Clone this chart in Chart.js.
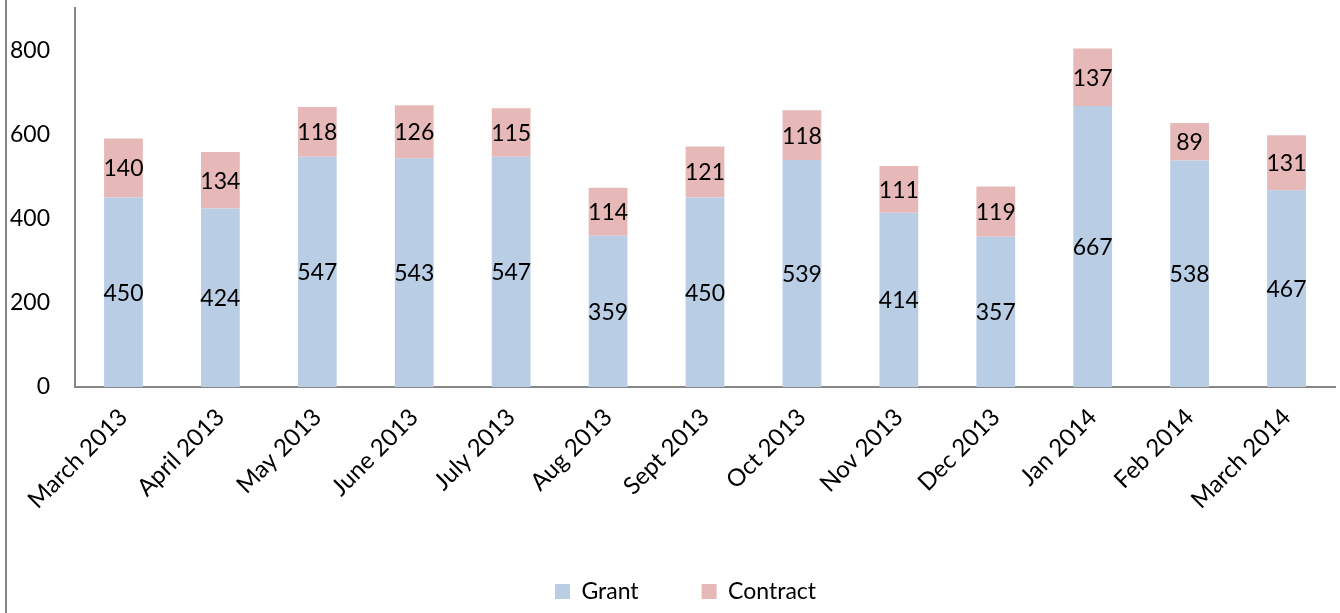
<!DOCTYPE html>
<html>
<head>
<meta charset="utf-8">
<script src="https://cdn.jsdelivr.net/npm/chart.js@4"></script>
<style>
  html, body { margin: 0; padding: 0; background: #fff; }
  #wrap { width: 1340px; height: 613px; position: relative; }
</style>
</head>
<body>
<div id="wrap"><canvas id="myChart"></canvas></div>
<script>
const months = ['March 2013', 'April 2013', 'May 2013', 'June 2013', 'July 2013', 'Aug 2013', 'Sept 2013',
                'Oct 2013', 'Nov 2013', 'Dec 2013', 'Jan 2014', 'Feb 2014', 'March 2014'];
const grant = [450, 424, 547, 543, 547, 359, 450, 539, 414, 357, 667, 538, 467];
const contract = [140, 134, 118, 126, 115, 114, 121, 118, 111, 119, 137, 89, 131];
const yTicks = [0, 200, 400, 600, 800];

const FONT = 'Lato, "Open Sans", sans-serif';
Chart.defaults.font.family = FONT;
Chart.defaults.font.size = 23;
Chart.defaults.color = '#000';

// value in the middle of each stacked segment
const segLabels = {
    id: 'segLabels',
    afterDatasetsDraw(chart) {
        const c = chart.ctx;
        c.save();
        c.font = '23px ' + FONT;
        c.fillStyle = '#000';
        c.textAlign = 'center';
        c.textBaseline = 'middle';
        chart.data.datasets.forEach((ds, i) => {
            chart.getDatasetMeta(i).data.forEach((bar, j) => {
                c.fillText(ds.data[j], bar.x, (bar.y + bar.base) / 2 + 1);
            });
        });
        c.restore();
    }
};

// outer frame line on the left, and nudge the legend right a bit
const frameLine = {
    id: 'frameLine',
    afterLayout(chart) {
        chart.legend.left += 18;
        chart.legend.right += 18;
    },
    afterDraw(chart) {
        const c = chart.ctx;
        c.save();
        c.strokeStyle = '#868686';
        c.lineWidth = 2;
        c.beginPath();
        c.moveTo(6, 0);
        c.lineTo(6, chart.height);
        c.stroke();
        c.restore();
    }
};

function noPad(scale) {
    scale.paddingTop = 0;
    scale.paddingBottom = 0;
    scale.paddingLeft = 0;
    scale.paddingRight = 0;
}

var graphData = {
    type: 'bar',
    data: {
        labels: months,
        datasets: [{
            label: 'Grant',
            data: grant,
            backgroundColor: '#B9CDE5',
            barPercentage: 0.4,
            categoryPercentage: 1
        }, {
            label: 'Contract',
            data: contract,
            backgroundColor: '#E6B9B8',
            barPercentage: 0.4,
            categoryPercentage: 1
        }]
    },
    options: {
        responsive: true,
        maintainAspectRatio: false,
        animation: false,
        layout: { padding: { top: 8, right: 5, left: 0, bottom: 0 } },
        plugins: {
            tooltip: { enabled: false },
            legend: {
                position: 'bottom',
                labels: {
                    boxWidth: 15,
                    boxHeight: 15,
                    padding: 10,
                    generateLabels(chart) {
                        const items = Chart.defaults.plugins.legend.labels.generateLabels(chart);
                        items[0].text = 'Grant' + '\u00a0'.repeat(9);
                        items.forEach(it => { it.lineWidth = 0; it.strokeStyle = 'transparent'; });
                        return items;
                    }
                }
            }
        },
        scales: {
            x: {
                stacked: true,
                grid: { display: false, drawTicks: false },
                border: { display: true, color: '#868686', width: 2 },
                ticks: { minRotation: 45, maxRotation: 45, autoSkip: false, padding: 16, font: { size: 24 } },
                afterFit(scale) { scale.height = 183; noPad(scale); }
            },
            y: {
                stacked: true,
                min: 0,
                max: 900,
                grid: { display: false, drawTicks: false },
                border: { display: true, color: '#868686', width: 2 },
                afterBuildTicks(scale) { scale.ticks = yTicks.map(v => ({ value: v })); },
                ticks: { padding: 25 },
                afterFit(scale) { scale.width = 75; noPad(scale); }
            }
        }
    },
    plugins: [segLabels, frameLine]
};

const ctx = document.getElementById('myChart').getContext('2d');
const myChart = new Chart(ctx, graphData);
</script>
</body>
</html>
